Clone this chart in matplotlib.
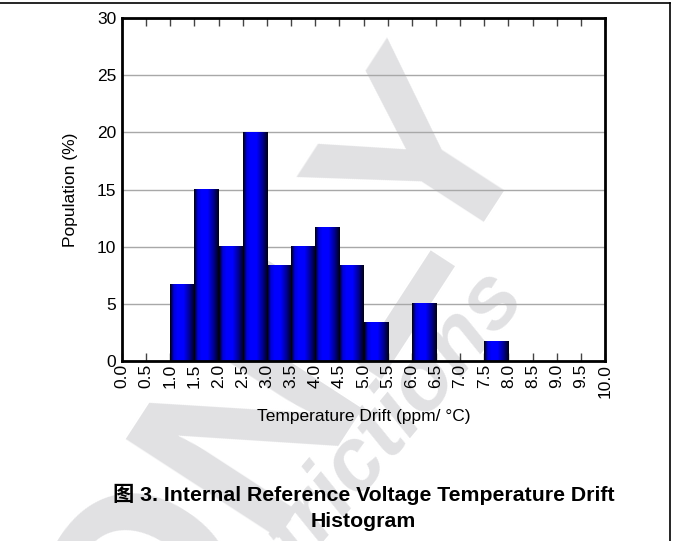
import numpy as np
import matplotlib
matplotlib.use("Agg")
import matplotlib.pyplot as plt
from matplotlib.colors import LinearSegmentedColormap
from matplotlib.lines import Line2D

plt.rcParams['font.family'] = ['Liberation Sans', 'Noto Sans CJK SC', 'DejaVu Sans']

# ---- data ----
bin_lefts = [0.0, 0.5, 1.0, 1.5, 2.0, 2.5, 3.0, 3.5, 4.0, 4.5, 5.0, 5.5, 6.0, 6.5, 7.0, 7.5, 8.0, 8.5, 9.0, 9.5]
population = [0, 0, 6.67, 15.0, 10.0, 20.0, 8.33, 10.0, 11.67, 8.33, 3.33, 0, 5.0, 0, 0, 1.67, 0, 0, 0, 0]
x_ticks = [i * 0.5 for i in range(21)]
x_tick_labels = [f"{v:.1f}" for v in x_ticks]
y_ticks = [0, 5, 10, 15, 20, 25, 30]
x_label = "Temperature Drift (ppm/ °C)"
y_label = "Population (%)"
caption = "图 3. Internal Reference Voltage Temperature Drift\nHistogram"

W, H = 673, 541
fig = plt.figure(figsize=(W / 100, H / 100), dpi=100)

# watermark (behind everything)
wm = '#e1e1e3'
fig.text(289 / W, 1 - 382 / H, "ONLY", rotation=57, rotation_mode='anchor',
         ha='center', va='center', fontsize=189, fontweight='bold', color=wm, zorder=-10)
fig.text(354 / W, 1 - 468 / H, "restrictions", rotation=50, rotation_mode='anchor',
         ha='center', va='center', fontsize=64, fontweight='bold', fontstyle='italic',
         color=wm, zorder=-10)

ax = fig.add_axes([122 / W, 1 - 361 / H, (605 - 122) / W, (361 - 18) / H])
ax.patch.set_alpha(0)

# gradient colormap for the bars
cmap = LinearSegmentedColormap.from_list(
    'barblue',
    [(0.0, (0, 0, 0.05)), (0.15, (0, 0, 0.85)), (0.3, (0, 0, 1.0)),
     (0.55, (0, 0, 1.0)), (0.8, (0, 0, 0.55)), (1.0, (0, 0, 0.08))])
grad = np.linspace(0, 1, 64).reshape(1, -1)

bars = ax.bar(bin_lefts, population, width=0.5, align='edge', color='none', edgecolor='none', zorder=3)
for b in bars:
    h = b.get_height()
    if h <= 0:
        continue
    x0 = b.get_x()
    x1 = x0 + b.get_width()
    ax.imshow(grad, extent=[x0, x1, 0, h], aspect='auto', cmap=cmap, zorder=3, interpolation='bilinear')

ax.set_xlim(0, 10)
ax.set_ylim(0, 30)
ax.set_aspect('auto')

ax.set_yticks(y_ticks)
ax.set_yticklabels([str(v) for v in y_ticks])
ax.set_xticks(x_ticks)
ax.set_xticklabels(x_tick_labels, rotation=90)

ax.grid(axis='y', color='#a8a8a8', linewidth=1.0, zorder=1)
ax.set_axisbelow(True)

ax.tick_params(axis='x', direction='in', top=True, bottom=True, length=6, width=1.0,
               color='#444444', labelsize=12.5, pad=2)
ax.tick_params(axis='y', length=0, labelsize=12.5, pad=4)

for s in ax.spines.values():
    s.set_linewidth(2.0)
    s.set_color('black')
    s.set_zorder(5)

ax.set_xlabel(x_label, fontsize=12.5, va='center')
ax.xaxis.set_label_coords(0.5, (361 - 417) / 343)
ax.set_ylabel(y_label, fontsize=12.5, va='center')
ax.yaxis.set_label_coords((70 - 122) / 483, 0.5)

fig.text(363.5 / W, 1 - 507 / H, caption, ha='center', va='center', fontsize=15.3,
         fontweight='bold', linespacing=1.47)

# outer frame lines (top and right)
fig.add_artist(Line2D([0, 670 / W], [1 - 3 / H, 1 - 3 / H], transform=fig.transFigure, color='black', lw=1.2))
fig.add_artist(Line2D([670 / W, 670 / W], [1 - 3 / H, 0], transform=fig.transFigure, color='black', lw=1.2))

fig.savefig("out.png", dpi=100)
